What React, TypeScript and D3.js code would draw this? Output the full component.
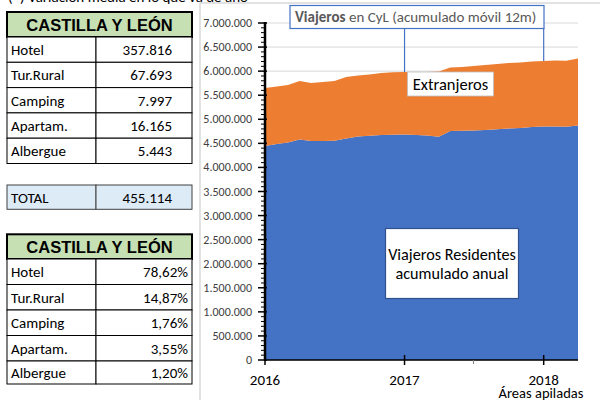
import React from "react";
import * as d3 from "d3";

const months = [
  "2016-01","2016-02","2016-03","2016-04","2016-05","2016-06","2016-07","2016-08","2016-09","2016-10","2016-11","2016-12",
  "2017-01","2017-02","2017-03","2017-04","2017-05","2017-06","2017-07","2017-08","2017-09","2017-10","2017-11","2017-12",
  "2018-01","2018-02","2018-03","2018-04",
];
const residentes = [
  4445000, 4487000, 4518000, 4580000, 4549000, 4549000, 4555000, 4601000, 4643000, 4657000, 4674000, 4678000,
  4684000, 4674000, 4664000, 4638000, 4757000, 4761000, 4767000, 4778000, 4792000, 4809000, 4819000, 4840000,
  4850000, 4850000, 4846000, 4871000,
];
const extranjeros = [
  1205000, 1194000, 1194000, 1215000, 1205000, 1226000, 1240000, 1277000, 1267000, 1273000, 1288000, 1298000,
  1298000, 1301000, 1316000, 1352000, 1319000, 1325000, 1340000, 1350000, 1357000, 1360000, 1361000, 1360000,
  1361000, 1371000, 1369000, 1392000,
];
const yTicks = [0, 500000, 1000000, 1500000, 2000000, 2500000, 3000000, 3500000, 4000000, 4500000, 5000000, 5500000, 6000000, 6500000, 7000000];
const xTickLabels = ["2016", "2017", "2018"];

const tableTitle = "CASTILLA Y LEÓN";
const tableLabels = ["Hotel", "Tur.Rural", "Camping", "Apartam.", "Albergue"];
const tableValues = ["357.816", "67.693", "7.997", "16.165", "5.443"];
const totalLabel = "TOTAL";
const totalValue = "455.114";
const pctValues = ["78,62%", "14,87%", "1,76%", "3,55%", "1,20%"];

const FONT = "Carlito, Calibri, Lato, 'Open Sans', sans-serif";
const HFONT = "'Liberation Sans', Arial, sans-serif";

const parse = d3.timeParse("%Y-%m");

export default function App() {
  const data = months.map((m, i) => ({ date: parse(m)!, res: residentes[i], ext: extranjeros[i] }));
  const x = d3.scaleTime().domain([data[0].date, data[data.length - 1].date]).range([265, 578]);
  const y = d3.scaleLinear().domain([0, 7000000]).range([360, 23]);
  const stack = d3.stack<any>().keys(["res", "ext"])(data as any);
  const area = d3
    .area<any>()
    .x((d) => x(d.data.date))
    .y0((d) => y(d[0]))
    .y1((d) => y(d[1]));
  const colors = ["#4472C4", "#ED7D31"];
  const minor = d3.range(0, 7000001, 100000).filter((v) => v % 500000 !== 0);
  const yearDates = xTickLabels.map((t) => parse(t + "-01")!);
  const midDate = parse("2017-07")!;

  const x2017 = x(parse("2017-01")!);
  const x2018 = x(parse("2018-01")!);
  const idx2017 = 12;
  const idx2018 = 24;

  const tableX0 = 7, tableX1 = 96, tableX2 = 192;
  const t1Head = [12, 37];
  const t1Rows = [37, 62.3, 87.6, 112.9, 138.2, 163.5];
  const t2Head = [234.3, 259];
  const t2Rows = [259, 284.5, 310, 335.5, 361, 384];

  const renderTable = (head: number[], rows: number[], vals: string[], valX: number) => (
    <g>
      <rect x={tableX0} y={head[0]} width={tableX2 - tableX0} height={head[1] - head[0]} fill="#C6E0B4" stroke="#000" strokeWidth={2} />
      <text x={(tableX0 + tableX2) / 2} y={(head[0] + head[1]) / 2 + 6} textAnchor="middle" fontFamily={HFONT} fontWeight="bold" fontSize={16.5} fill="#000">
        {tableTitle}
      </text>
      {tableLabels.map((lab, i) => (
        <g key={lab}>
          <rect x={tableX0} y={rows[i]} width={tableX1 - tableX0} height={rows[i + 1] - rows[i]} fill="#fff" stroke="#000" strokeWidth={1} />
          <rect x={tableX1} y={rows[i]} width={tableX2 - tableX1} height={rows[i + 1] - rows[i]} fill="#fff" stroke="#000" strokeWidth={1} />
          <text x={tableX0 + 4} y={(rows[i] + rows[i + 1]) / 2 + 5.5} fontFamily={FONT} fontSize={15} fill="#000">{lab}</text>
          <text x={valX} y={(rows[i] + rows[i + 1]) / 2 + 5.5} textAnchor="end" fontFamily={FONT} fontSize={15} fill="#000">{vals[i]}</text>
        </g>
      ))}
    </g>
  );

  return (
    <div style={{ position: "absolute", left: 0, top: 0 }}>
      <svg width={600} height={400} style={{ display: "block" }}>
        <rect x={0} y={0} width={600} height={400} fill="#fff" />
        {/* partially clipped note at top */}
        <text x={8} y={2} fontFamily={FONT} fontSize={15} fill="#000">(*) Variación media en lo que va de año</text>

        {/* chart frame */}
        <line x1={200} y1={3} x2={600} y2={3} stroke="#D9D9D9" strokeWidth={1.5} />
        <line x1={200} y1={3} x2={200} y2={400} stroke="#D9D9D9" strokeWidth={1.5} />

        {/* tables */}
        {renderTable(t1Head, t1Rows, tableValues, 172)}
        <rect x={tableX0} y={185} width={tableX1 - tableX0} height={24.3} fill="#DDEBF7" stroke="#404040" strokeWidth={1} />
        <rect x={tableX1} y={185} width={tableX2 - tableX1} height={24.3} fill="#DDEBF7" stroke="#404040" strokeWidth={1} />
        <text x={tableX0 + 4} y={202.5} fontFamily={FONT} fontSize={15} fill="#000">{totalLabel}</text>
        <text x={172} y={202.5} textAnchor="end" fontFamily={FONT} fontSize={15} fill="#000">{totalValue}</text>
        {renderTable(t2Head, t2Rows, pctValues, 188)}

        {/* gridlines */}
        {yTicks.map((t) => (
          <line key={"g" + t} x1={265} x2={578} y1={y(t)} y2={y(t)} stroke="#D9D9D9" strokeWidth={1} />
        ))}

        {/* areas */}
        {stack.map((s, i) => (
          <path key={s.key} d={area(s as any)!} fill={colors[i]} />
        ))}

        {/* y axis */}
        {minor.map((t) => (
          <line key={"m" + t} x1={261} x2={265} y1={y(t)} y2={y(t)} stroke="#000" strokeWidth={1} />
        ))}
        {yTicks.map((t) => (
          <g key={"t" + t}>
            <line x1={258} x2={267} y1={y(t)} y2={y(t)} stroke="#000" strokeWidth={1.5} />
            <text x={252} y={y(t) + 4} textAnchor="end" fontFamily={FONT} fontSize={12} fill="#404040">
              {d3.format(",")(t).replace(/,/g, ".")}
            </text>
          </g>
        ))}
        <line x1={265} x2={265} y1={22} y2={361} stroke="#000" strokeWidth={2.5} />

        {/* x axis */}
        <line x1={264} x2={578} y1={360} y2={360} stroke="#000" strokeWidth={1.5} />
        {yearDates.map((d, i) => (
          <g key={xTickLabels[i]}>
            <line x1={x(d)} x2={x(d)} y1={i === 0 ? 360 : 355} y2={365} stroke="#000" strokeWidth={1.5} />
            <text x={x(d)} y={385} textAnchor="middle" fontFamily={FONT} fontSize={15} fill="#000">{xTickLabels[i]}</text>
          </g>
        ))}
        <line x1={x(midDate)} x2={x(midDate)} y1={360} y2={364} stroke="#808080" strokeWidth={1} />
        <text x={541} y={398} textAnchor="middle" fontFamily={FONT} fontSize={14.5} fill="#000">Áreas apiladas</text>

        {/* title callout */}
        <line x1={x2017} x2={x2017} y1={28} y2={y(residentes[idx2017] + extranjeros[idx2017])} stroke="#4472C4" strokeWidth={1.2} />
        <line x1={x2018} x2={x2018} y1={28} y2={y(residentes[idx2018] + extranjeros[idx2018])} stroke="#4472C4" strokeWidth={1.2} />
        <rect x={290} y={5.5} width={254} height={23} fill="#fff" stroke="#4472C4" strokeWidth={1.2} />
        <text x={295} y={22} fontFamily={FONT} fontSize={15} fill="#595959">
          <tspan fontWeight="bold">Viajeros</tspan>
          <tspan> en CyL (acumulado móvil 12m)</tspan>
        </text>

        {/* Extranjeros label */}
        <rect x={407.5} y={72} width={86} height={24} fill="#fff" stroke="#BFBFBF" strokeWidth={0.8} />
        <text x={450.5} y={90} textAnchor="middle" fontFamily={FONT} fontSize={16.5} fill="#000">Extranjeros</text>

        {/* Residentes label */}
        <rect x={385.5} y={228.5} width={133} height={70} fill="#fff" stroke="#2F528F" strokeWidth={1.2} />
        <text x={452} y={260} textAnchor="middle" fontFamily={FONT} fontSize={16.2} fill="#000">Viajeros Residentes</text>
        <text x={452} y={279} textAnchor="middle" fontFamily={FONT} fontSize={16.2} fill="#000">acumulado anual</text>
      </svg>
    </div>
  );
}
